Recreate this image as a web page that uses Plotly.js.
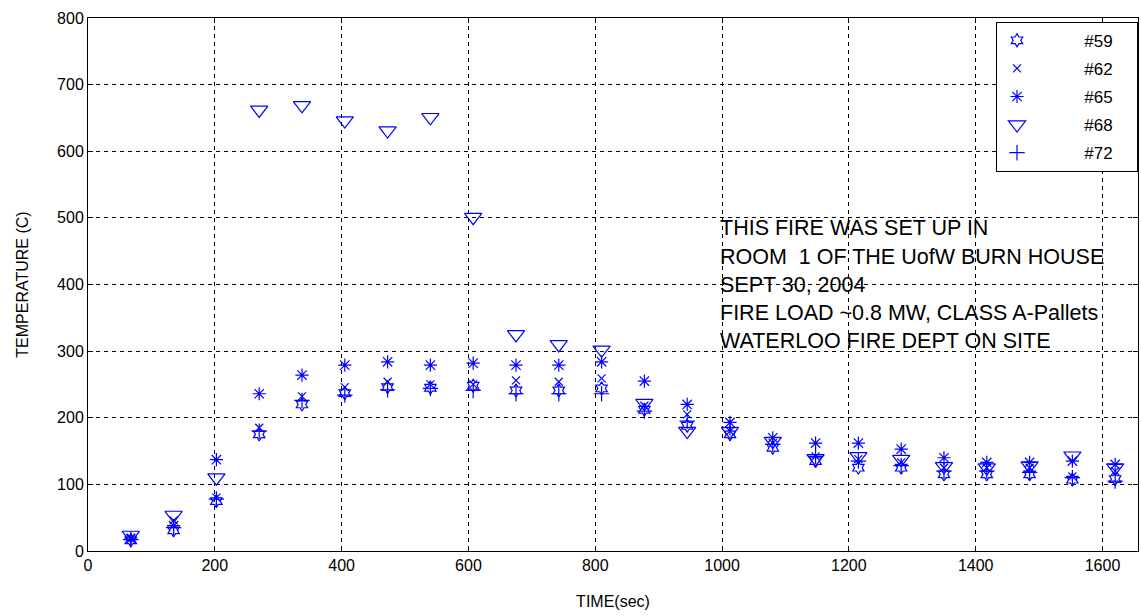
<!DOCTYPE html>
<html>
<head>
<meta charset="utf-8">
<script src="https://cdn.plot.ly/plotly-3.0.1.min.js"></script>
<style>html,body{margin:0;padding:0;background:#fff;}#chart{width:1141px;height:616px;}</style>
</head>
<body>
<div id="chart"></div>
<script>
// Time (sec)
const timeSec = [67.5,135,202.5,270,337.5,405,472.5,540,607.5,675,742.5,810,877.5,945,1012.5,1080,1147.5,1215,1282.5,1350,1417.5,1485,1552.5,1620];
// Temperatures (C) per thermocouple
const t59 = [16,31,75,175,220,237,246,245,248,241,241,244,212,188,175,155,135,125,125,115,115,115,107,108];
const t62 = [20,46,80,185,232,246,254,250,250,256,254,259,218,205,180,162,142,138,133,125,125,125,112,120];
const t65 = [18,38,137,236,264,279,284,279,282,279,279,284,255,220,193,170,162,162,153,140,133,133,135,130];
const t68 = [24,54,110,662,669,646,631,651,501,325,310,302,222,180,180,165,139,142,138,127,125,128,143,125];
const t72 = [17,35,78,180,226,234,242,244,241,236,236,236,210,195,185,160,142,135,128,120,120,118,110,105];
const seriesNames = ['#59','#62','#65','#68','#72'];
const seriesValues = [t59,t62,t65,t68,t72];
const noteLines = ['THIS FIRE WAS SET UP IN','ROOM  1 OF THE UofW BURN HOUSE','SEPT 30, 2004','FIRE LOAD ~0.8 MW, CLASS A-Pallets','WATERLOO FIRE DEPT ON SITE'];
const noteY = [485,441,399,357,315];
const noteX = 993;

const symbols = ['hexagram-open','x-thin-open','asterisk-open','triangle-down-open','cross-thin-open'];
const sizes = [10,8,11,15,11];
const blue = '#0000ff';
const lead = '\u00a0'.repeat(10);
const trail = '\u00a0'.repeat(4);

const traces = seriesNames.map((n,i)=>({
  type:'scatter', mode:'markers', x: timeSec, y: seriesValues[i], name: lead + n + trail,
  legendgroup: 'g' + i,
  marker:{symbol: symbols[i], size: sizes[i], color: blue, line:{color: blue, width: 1.2}}
}));

const font = {family:'Liberation Sans, Arial, sans-serif', size:16, color:'#000'};
const axisCommon = {
  showline:true, linecolor:'#000', linewidth:1, mirror:'ticks',
  ticks:'inside', ticklen:5, tickcolor:'#000', tickwidth:1,
  showgrid:true, gridcolor:'#000', gridwidth:1, griddash:'4px,4px',
  zeroline:false, tickfont: font
};

const layout = {
  width:1141, height:616,
  margin:{l:88, r:3, t:18, b:65},
  paper_bgcolor:'#fff', plot_bgcolor:'#fff',
  font: font,
  showlegend:true,
  xaxis: Object.assign({}, axisCommon, {range:[0,1656], dtick:200, tick0:0,
    title:{text:'TIME(sec)', font: font, standoff: 22}}),
  yaxis: Object.assign({}, axisCommon, {range:[0,800], dtick:100, tick0:0,
    title:{text:'TEMPERATURE (C)', font: font, standoff: 24}}),
  legend:{x:1, xanchor:'right', y:0.993, yanchor:'top', bgcolor:'#fff', bordercolor:'#000', borderwidth:1,
    font:{family:'Liberation Sans, Arial, sans-serif', size:17, color:'#000'}, tracegroupgap:3},
  annotations: noteLines.map((t,i)=>({x: noteX, y: noteY[i], xref:'x', yref:'y', text:t, showarrow:false,
    xanchor:'left', yanchor:'middle', align:'left', font:{family:'Liberation Sans, Arial, sans-serif', size:21.5, color:'#000'}}))
};

Plotly.newPlot('chart', traces, layout, {displayModeBar:false, staticPlot:true});
</script>
</body>
</html>
